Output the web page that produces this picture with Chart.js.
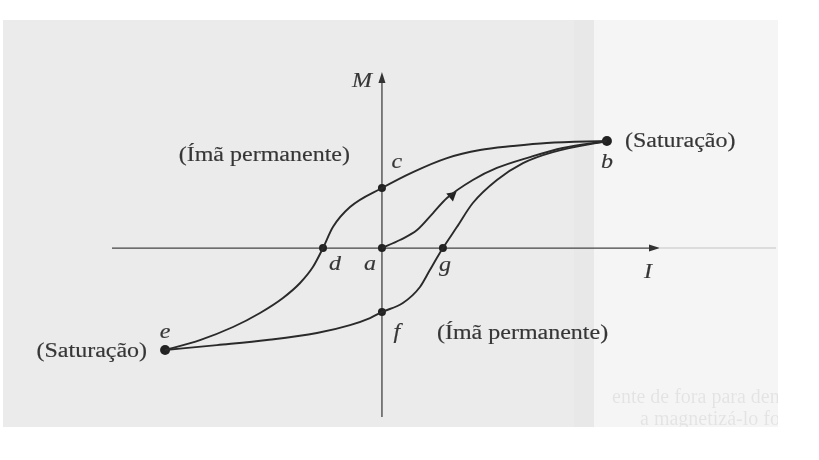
<!DOCTYPE html>
<html>
<head>
<meta charset="utf-8">
<script src="https://cdn.jsdelivr.net/npm/chart.js@4.4.1/dist/chart.umd.min.js"></script>
<style>
  html, body { margin: 0; padding: 0; background: #ffffff; }
  #wrap { width: 819px; height: 460px; }
</style>
</head>
<body>
<div id="wrap"><canvas id="c" width="819" height="460"></canvas></div>
<script>
// ---- Data (I in units where saturation I = 10, M where saturation M = 10) ----
// Descending branch b -> c -> d -> e
const I_upper = [10, 7.33, 5.82, 4.36, 2.89, 1.38, 0, -1.42, -2.18, -2.62, -3.07, -3.64, -4.40, -5.42, -6.62, -8.09, -9.64];
const M_upper = [10, 9.82, 9.53, 9.16, 8.41, 7.10, 5.61, 3.83, 1.96, 0, -1.78, -3.27, -4.67, -6.07, -7.38, -8.60, -9.53];
// Ascending branch e -> f -> g -> b
const I_lower = [-9.64, -7.33, -5.11, -2.89, -1.42, -0.53, 0, 0.93, 1.69, 2.13, 2.44, 2.71, 3.33, 4.04, 5.11, 6.27, 7.60, 10];
const M_lower = [-9.53, -9.07, -8.60, -7.94, -7.20, -6.54, -5.98, -5.14, -3.64, -2.06, -0.93, 0, 1.96, 4.21, 6.36, 7.94, 8.97, 10];
// Initial magnetization curve a -> b
const I_init = [0, 0.8, 1.56, 2.27, 2.89, 4.04, 5.11, 6.58, 8.04, 10];
const M_init = [0, 0.75, 1.68, 3.27, 4.67, 6.36, 7.48, 8.50, 9.35, 10];
// Marked points
const pointNames = ['b', 'c', 'd', 'a', 'g', 'f', 'e'];
const pointI = [10, 0, -2.62, 0, 2.71, 0, -9.64];
const pointM = [10, 5.61, 0, 0, 0, -5.98, -9.53];
// Direction arrow on the initial curve
const arrowI = [3.11];
const arrowM = [4.90];
// Axis titles and notes
const axisTitleI = 'I';
const axisTitleM = 'M';
const noteSat = '(Saturação)';
const notePerm = '(Ímã permanente)';

// ---- Styles ----
const INK = '#2a2a2a';
const TEXT = '#363636';
const FONT_PX = 20;
const SX = 1.2; // horizontal stretch of the scanned lettering
const letterOffsets = { b: [0, 22], c: [15, -25], d: [12, 17], a: [-12, 17], g: [2, 18], f: [15, 21], e: [0, -17] };

const xy = (xs, ys) => xs.map((x, i) => ({ x: x, y: ys[i] }));

function drawText(ctx, txt, x, y, align, italic) {
  ctx.save();
  ctx.font = (italic ? 'italic ' : '') + FONT_PX + 'px "Liberation Serif", "DejaVu Serif", serif';
  ctx.fillStyle = TEXT;
  ctx.strokeStyle = TEXT;
  ctx.lineWidth = 0.15;
  ctx.textBaseline = 'middle';
  const w = ctx.measureText(txt).width * SX;
  let left = x;
  if (align === 'center') left = x - w / 2;
  else if (align === 'right') left = x - w;
  ctx.translate(left, y);
  ctx.scale(SX, 1);
  ctx.textAlign = 'left';
  ctx.fillText(txt, 0, 0);
  ctx.strokeText(txt, 0, 0);
  ctx.restore();
}

const paperPlugin = {
  id: 'paper',
  beforeDraw(chart) {
    const ctx = chart.ctx;
    ctx.save();
    ctx.fillStyle = '#ffffff';
    ctx.fillRect(0, 0, chart.width, chart.height);
    ctx.fillStyle = '#ebebeb';
    ctx.fillRect(3, 20, 775, 407);
    ctx.fillStyle = '#f6f5f6';
    ctx.fillRect(594, 20, 184, 407);
    ctx.fillStyle = 'rgba(0,0,0,0.012)';
    ctx.fillRect(574, 20, 20, 407);
    // faint show-through text from the reverse page
    ctx.beginPath();
    ctx.rect(3, 20, 775, 407);
    ctx.clip();
    ctx.font = '20px "Liberation Serif", serif';
    ctx.fillStyle = 'rgba(0,0,0,0.07)';
    ctx.textBaseline = 'middle';
    ctx.fillText('ente de fora para dentro', 612, 398);
    ctx.fillText('a magnetizá-lo fo', 640, 420);
    ctx.restore();
  }
};

const axesPlugin = {
  id: 'axesArrows',
  beforeDatasetsDraw(chart) {
    const { ctx, scales: { x, y } } = chart;
    const x0 = x.getPixelForValue(0);
    const y0 = y.getPixelForValue(0);
    ctx.save();
    ctx.strokeStyle = 'rgba(0,0,0,0.10)';
    ctx.lineWidth = 2;
    ctx.beginPath(); ctx.moveTo(x.right, y0); ctx.lineTo(776, y0); ctx.stroke();
    ctx.strokeStyle = '#444444';
    ctx.fillStyle = '#333333';
    ctx.lineWidth = 1.3;
    ctx.beginPath();
    ctx.moveTo(x.left, y0); ctx.lineTo(x.right - 6, y0);
    ctx.moveTo(x0, y.bottom); ctx.lineTo(x0, y.top + 6);
    ctx.stroke();
    ctx.beginPath();
    ctx.moveTo(x.right, y0); ctx.lineTo(x.right - 11, y0 - 3.5); ctx.lineTo(x.right - 11, y0 + 3.5); ctx.closePath();
    ctx.fill();
    ctx.beginPath();
    ctx.moveTo(x0, y.top); ctx.lineTo(x0 - 3.5, y.top + 11); ctx.lineTo(x0 + 3.5, y.top + 11); ctx.closePath();
    ctx.fill();
    ctx.restore();
  }
};

const labelPlugin = {
  id: 'labels',
  afterDatasetsDraw(chart) {
    const { ctx, scales: { x, y } } = chart;
    pointNames.forEach((n, i) => {
      const px = x.getPixelForValue(pointI[i]);
      const py = y.getPixelForValue(pointM[i]);
      const o = letterOffsets[n];
      drawText(ctx, n, px + o[0], py + o[1], 'center', true);
    });
    const x0 = x.getPixelForValue(0);
    const y0 = y.getPixelForValue(0);
    drawText(ctx, axisTitleM, x0 - 20, y.top + 10, 'center', true);
    drawText(ctx, axisTitleI, x.right - 12, y0 + 25, 'center', true);
    const bx = x.getPixelForValue(pointI[0]), by = y.getPixelForValue(pointM[0]);
    const ex = x.getPixelForValue(pointI[6]), ey = y.getPixelForValue(pointM[6]);
    drawText(ctx, noteSat, bx + 18, by + 1, 'left', false);
    drawText(ctx, noteSat, ex - 18, ey + 2, 'right', false);
    drawText(ctx, notePerm, x0 - 32, y.getPixelForValue(pointM[1]) - 32, 'right', false);
    drawText(ctx, notePerm, x0 + 55, y.getPixelForValue(pointM[5]) + 22, 'left', false);
  }
};

const lineStyle = { showLine: true, pointRadius: 0, borderColor: INK, borderWidth: 1.9, cubicInterpolationMode: 'monotone', clip: false, fill: false };

new Chart(document.getElementById('c'), {
  type: 'scatter',
  data: {
    datasets: [
      Object.assign({ label: 'descending', data: xy(I_upper, M_upper) }, lineStyle),
      Object.assign({ label: 'ascending', data: xy(I_lower, M_lower) }, lineStyle),
      Object.assign({ label: 'initial', data: xy(I_init, M_init) }, lineStyle),
      { label: 'points', data: xy(pointI, pointM), showLine: false, pointRadius: [5, 4, 4, 4, 4, 4, 5],
        pointBackgroundColor: '#222222', pointBorderColor: '#222222', pointBorderWidth: 0, clip: false },
      { label: 'arrow', data: xy(arrowI, arrowM), showLine: false, pointStyle: 'triangle', pointRadius: 6,
        rotation: 50, pointBackgroundColor: '#222222', pointBorderColor: '#222222', pointBorderWidth: 0, clip: false }
    ]
  },
  options: {
    responsive: false,
    animation: false,
    devicePixelRatio: 1,
    layout: { padding: { left: 112, right: 159, top: 72, bottom: 43 } },
    plugins: { legend: { display: false }, tooltip: { enabled: false }, title: { display: false } },
    scales: {
      x: { type: 'linear', min: -12, max: 12.36, display: false },
      y: { type: 'linear', min: -15.79, max: 16.45, display: false }
    }
  },
  plugins: [paperPlugin, axesPlugin, labelPlugin]
});
</script>
</body>
</html>
